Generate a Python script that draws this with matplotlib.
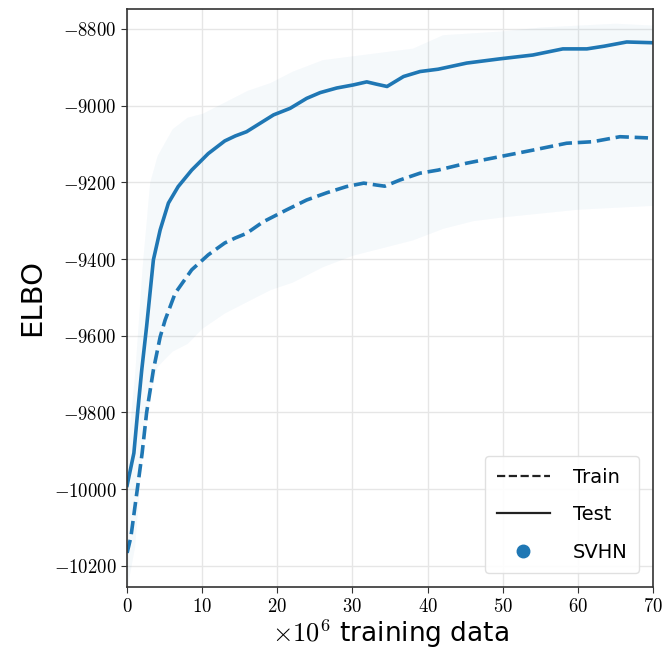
import matplotlib
matplotlib.use('Agg')
import matplotlib.pyplot as plt
from matplotlib.lines import Line2D
from matplotlib.ticker import FuncFormatter

plt.rcParams['mathtext.fontset'] = 'cm'

# smoothed test ELBO (solid) vs. training data seen (x 1e6)
test_x = [0, 0.9, 1.4, 1.95, 2.6, 3.5, 4.4, 5.5, 6.8, 8.6, 10.8, 13, 14.4, 15.9,
          17.7, 19.5, 21.7, 23.9, 25.7, 27.9, 30.1, 31.9, 33.2, 34.6, 36.8, 39,
          41.4, 45.2, 49.6, 54, 58, 61.2, 63.5, 66.5, 70]
test_y = [-9990, -9906, -9800, -9689, -9575, -9402, -9324, -9254, -9211, -9168,
          -9125, -9092, -9079, -9068, -9046, -9024, -9007, -8981, -8966, -8954,
          -8946, -8938, -8944, -8950, -8924, -8911, -8905, -8889, -8878, -8868,
          -8852, -8852, -8845, -8834, -8836]

# smoothed train ELBO (dashed)
train_x = [0, 0.5, 1.4, 2.0, 2.6, 3.5, 4.4, 5.06, 6.4, 8.6, 10.8, 13, 14.4, 15.9,
           18.1, 21.2, 23.9, 26.6, 29.2, 31.5, 33.2, 34.3, 36.3, 39, 41.4, 45.2,
           49.6, 54, 58.5, 62, 65.6, 69.2, 70]
train_y = [-10166, -10125, -9994, -9906, -9800, -9689, -9603, -9559, -9489, -9428,
           -9389, -9358, -9345, -9333, -9303, -9272, -9246, -9227, -9211, -9202,
           -9207, -9210, -9194, -9176, -9168, -9150, -9133, -9116, -9098, -9094,
           -9081, -9084, -9085]

# envelope of the raw (unsmoothed) curves drawn faintly behind
noise_x = [0, 1, 2, 3, 4, 6, 8, 10, 13, 16, 19, 22, 26, 30, 34, 38, 42, 46, 50,
           55, 60, 65, 70]
noise_hi = [-9900, -9700, -9420, -9200, -9130, -9060, -9030, -9020, -8990, -8960,
            -8940, -8910, -8880, -8870, -8860, -8850, -8815, -8810, -8805, -8795,
            -8790, -8785, -8790]
noise_lo = [-10255, -10150, -9900, -9760, -9680, -9640, -9620, -9580, -9540, -9510,
            -9480, -9460, -9420, -9390, -9370, -9350, -9320, -9300, -9290, -9280,
            -9270, -9265, -9260]

x_ticks = [0, 10, 20, 30, 40, 50, 60, 70]
y_ticks = [-10200, -10000, -9800, -9600, -9400, -9200, -9000, -8800]

blue = '#1f77b4'

fig = plt.figure(figsize=(6.62, 6.52), dpi=100)
ax = fig.add_axes([0.192, 0.0997, 0.7944, 0.8865])

ax.fill_between(noise_x, noise_lo, noise_hi, color=blue, alpha=0.045, linewidth=0)
ax.plot(train_x, train_y, '--', color=blue, linewidth=2.6)
ax.plot(test_x, test_y, '-', color=blue, linewidth=2.6)

ax.set_xlim(0, 70)
ax.set_ylim(-10255, -8748)
ax.set_xticks(x_ticks)
ax.set_yticks(y_ticks)
fmt = FuncFormatter(lambda v, p: f'${v:.0f}$')
ax.xaxis.set_major_formatter(fmt)
ax.yaxis.set_major_formatter(fmt)
ax.tick_params(labelsize=13.5, color='#333333', length=4)
ax.grid(True, color='#e6e6e6', linewidth=1.0)
ax.set_axisbelow(True)
for s in ax.spines.values():
    s.set_color('#333333')
    s.set_linewidth(1.2)

ax.set_ylabel('ELBO', fontsize=21, labelpad=6)
ax.set_xlabel(r'$\times10^6$ training data', fontsize=19, labelpad=1)

handles = [
    Line2D([], [], color='#222222', linestyle='--', linewidth=1.6),
    Line2D([], [], color='#222222', linestyle='-', linewidth=1.6),
    Line2D([], [], color=blue, marker='o', linestyle='none', markersize=9),
]
ax.legend(handles, ['Train', 'Test', 'SVHN'], loc='lower right', fontsize=14,
          handlelength=2.7, handletextpad=1.2, labelspacing=0.95, borderpad=0.6,
          borderaxespad=0.7, framealpha=0.9, edgecolor='#dddddd')

fig.savefig('out.png', dpi=100)
